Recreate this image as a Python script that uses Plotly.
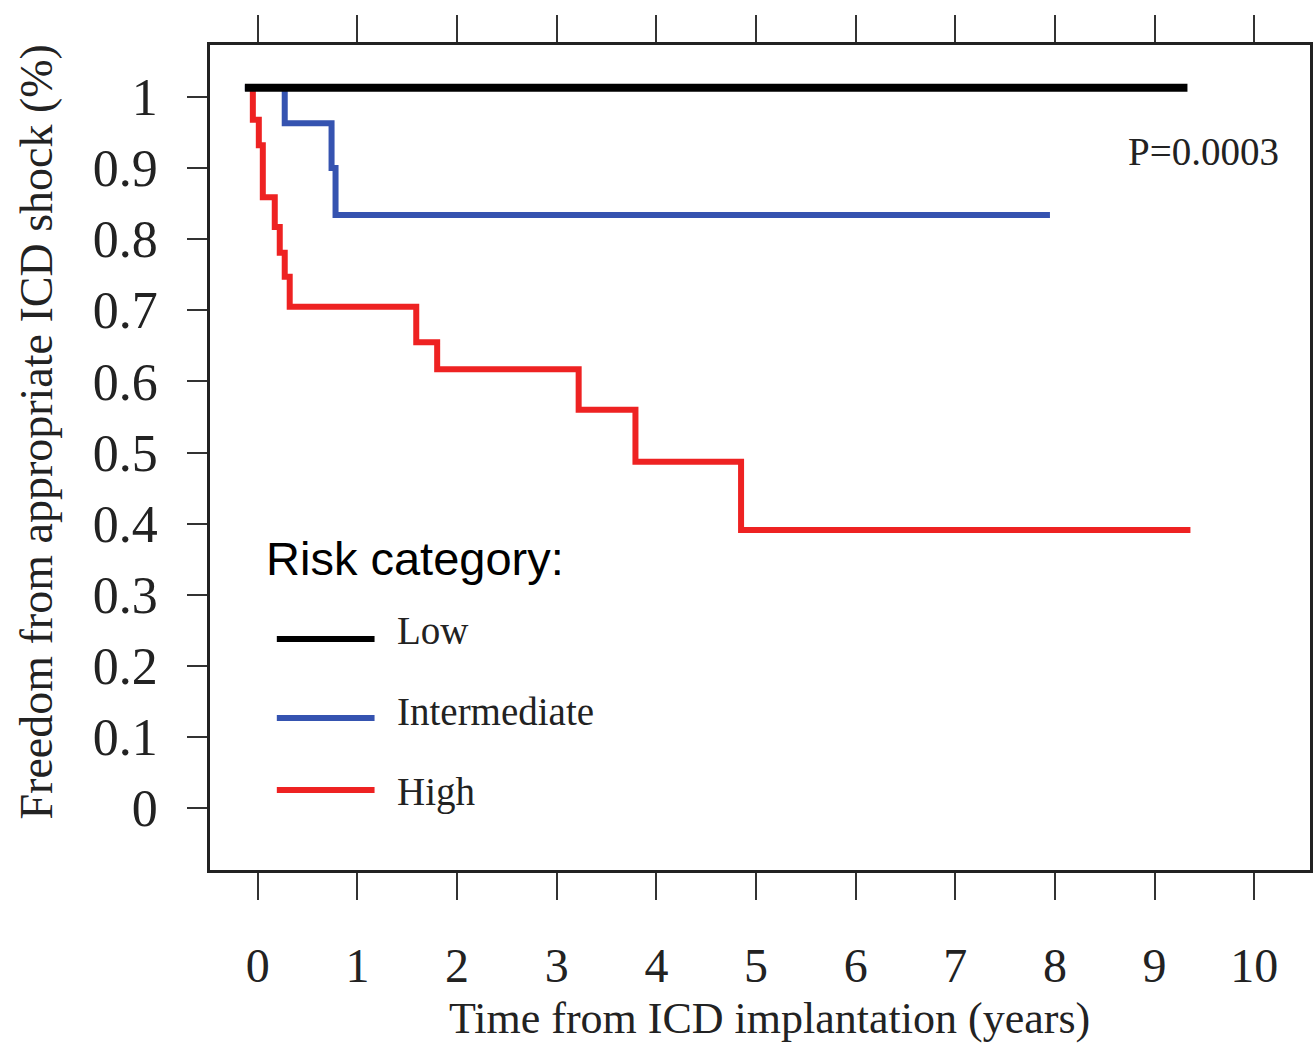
import plotly.graph_objects as go

# ---- data ----
low_t = [-0.13, 9.33]
low_s = [1.013, 1.013]

inter_t = [-0.13, 0.27, 0.74, 0.78, 7.95]
inter_s = [1.013, 0.963, 0.900, 0.834, 0.834]

high_t = [-0.08, -0.05, 0.01, 0.05, 0.17, 0.22, 0.27, 0.32, 1.59, 1.80, 3.22, 3.79, 4.85, 9.36]
high_s = [1.013, 0.968, 0.932, 0.859, 0.817, 0.781, 0.747, 0.705, 0.655, 0.617, 0.560, 0.487, 0.391, 0.391]

x_ticks = [0, 1, 2, 3, 4, 5, 6, 7, 8, 9, 10]
y_ticks = [0, 0.1, 0.2, 0.3, 0.4, 0.5, 0.6, 0.7, 0.8, 0.9, 1.0]
y_ticktext = ["0", "0.1", "0.2", "0.3", "0.4", "0.5", "0.6", "0.7", "0.8", "0.9", "1"]

series_names = ["Low", "Intermediate", "High"]
series_colors = ["#000000", "#3553B0", "#EE2222"]
series_widths = [8, 6, 6]

SERIF = "Liberation Serif, Times New Roman, serif"
SANS = "Liberation Sans, Arial, sans-serif"

fig = go.Figure()
# draw order: red, blue, black on top
for t, s, name, col, w in [(high_t, high_s, series_names[2], series_colors[2], series_widths[2]),
                           (inter_t, inter_s, series_names[1], series_colors[1], series_widths[1]),
                           (low_t, low_s, series_names[0], series_colors[0], series_widths[0])]:
    fig.add_trace(go.Scatter(x=t, y=s, mode="lines", name=name,
                             line=dict(color=col, width=w, shape="hv"),
                             showlegend=False))

W, H = 1316, 1043
L, R, T, B = 210, 3, 45, 173
pw, ph = W - L - R, H - T - B


def px2paper(px, py):
    return (px - L) / pw, (H - B - py) / ph


fig.update_layout(
    width=W, height=H,
    margin=dict(l=L, r=R, t=T, b=B),
    paper_bgcolor="white", plot_bgcolor="white",
    font=dict(family=SERIF, color="#222"),
)

fig.update_xaxes(
    range=[-0.48, 10.56], tickvals=x_ticks, ticktext=[str(v) for v in x_ticks],
    ticks="outside", ticklen=27, tickwidth=2, tickcolor="#333",
    showline=True, linewidth=3, linecolor="#222", mirror="ticks",
    showgrid=False, zeroline=False,
    tickfont=dict(family=SERIF, size=48, color="#222"),
    ticklabelstandoff=24,
)
fig.update_yaxes(
    range=[-0.087, 1.073], tickvals=y_ticks, ticktext=y_ticktext,
    ticks="outside", ticklen=20, tickwidth=2, tickcolor="#333",
    showline=True, linewidth=2.5, linecolor="#222", mirror=True,
    showgrid=False, zeroline=False,
    tickfont=dict(family=SERIF, size=52, color="#222"),
    ticklabelstandoff=19,
)

ann = []
# axis titles
x, y = px2paper(36, 432)
ann.append(dict(text="Freedom from appropriate ICD shock (%)", x=x, y=y, xref="paper", yref="paper",
                textangle=-90, showarrow=False, font=dict(family=SERIF, size=46, color="#222"),
                xanchor="center", yanchor="middle"))
x, y = px2paper(771, 1018)
ann.append(dict(text="Time from ICD implantation (years)", x=x, y=y, xref="paper", yref="paper",
                showarrow=False, font=dict(family=SERIF, size=44, color="#222"),
                xanchor="center", yanchor="middle"))
# p-value
x, y = px2paper(1284, 152)
ann.append(dict(text="P=0.0003", x=x, y=y, xref="paper", yref="paper", showarrow=False,
                font=dict(family=SERIF, size=39, color="#222"), xanchor="right", yanchor="middle"))

# manual legend
x, y = px2paper(264, 558)
ann.append(dict(text="Risk category:", x=x, y=y, xref="paper", yref="paper", showarrow=False,
                font=dict(family=SANS, size=47, color="#000"), xanchor="left", yanchor="middle"))
shapes = []
leg_y = [639, 718, 790]
leg_text_y = [630, 711, 792]
for name, col, ly, ty in zip(series_names, series_colors, leg_y, leg_text_y):
    x0, y0 = px2paper(277, ly)
    x1, _ = px2paper(375, ly)
    shapes.append(dict(type="line", xref="paper", yref="paper", x0=x0, x1=x1, y0=y0, y1=y0,
                       line=dict(color=col, width=6)))
    tx, tyy = px2paper(396, ty)
    ann.append(dict(text=name, x=tx, y=tyy, xref="paper", yref="paper", showarrow=False,
                    font=dict(family=SERIF, size=39, color="#222"), xanchor="left", yanchor="middle"))

fig.update_layout(annotations=ann, shapes=shapes)

fig.write_html("out.html", config={"displayModeBar": False},
               post_script="document.body.style.margin='0px';")
